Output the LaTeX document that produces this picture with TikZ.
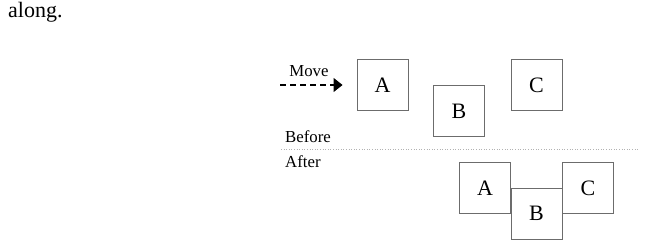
\documentclass[tikz,border=0pt]{standalone}
\usepackage{fontspec}
\setmainfont{Liberation Serif}
\usetikzlibrary{arrows.meta}

\begin{document}
\begin{tikzpicture}[>=Latex,x=1pt,y=-1pt,
  blk/.style={draw=gray!85!black,line width=0.9pt,minimum width=51pt,minimum height=51pt,inner sep=0pt,font=\fontsize{22}{26}\selectfont},
  lbl/.style={font=\fontsize{16.8}{19}\selectfont,inner sep=0pt}]
  \useasboundingbox (0,0) rectangle (646,248);
  \node[anchor=base west,inner sep=0pt,font=\fontsize{22}{26}\selectfont] (txt) at (8,18) {along.};
  % Before
  \begin{scope}
    \node[blk] (bA) at (382.5,85) {A};
    \node[blk] (bB) at (459,111) {B};
    \node[blk] (bC) at (536.5,85) {C};
    \coordinate (mstart) at (280,85);
    \draw[dash pattern=on 6pt off 4pt,line width=1.1pt,-{Triangle[length=9pt,width=14pt]},shorten >=14pt] (mstart) -- (bA.west);
    \node[lbl] (move) at (309,71) {Move};
    \node[lbl,anchor=west] (before) at (285,137) {Before};
  \end{scope}
  % separator
  \coordinate (sepL) at (281,149); \coordinate (sepR) at (638,149);
  \draw[gray!60,dotted,line width=0.6pt] (sepL) -- (sepR);
  % After
  \begin{scope}
    \node[lbl,anchor=west] (after) at (285,162) {After};
    \node[blk] (aA) at (485,188) {A};
    \node[blk] (aB) at (536.5,213.5) {B};
    \node[blk] (aC) at (588,188) {C};
  \end{scope}
\end{tikzpicture}
\end{document}
